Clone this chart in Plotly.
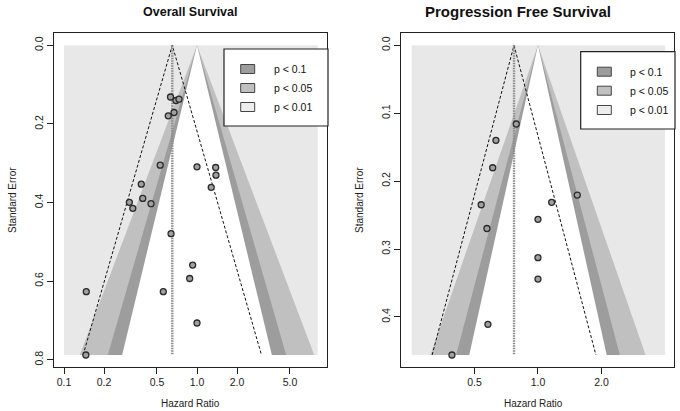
import math
import plotly.graph_objects as go

# ---------------- data ----------------
os_hr = [0.632, 0.695, 0.732, 0.672, 0.608, 0.529, 1.0, 1.382, 1.389, 1.279, 0.381,
         0.391, 0.451, 0.310, 0.329, 0.638, 0.928, 0.881, 0.147, 0.558, 1.0, 0.146]
os_se = [0.1316, 0.1405, 0.1372, 0.1710, 0.1794, 0.3051, 0.3092, 0.3109, 0.3305, 0.3613, 0.3534,
         0.3895, 0.4031, 0.3995, 0.4148, 0.4794, 0.5592, 0.5934, 0.6270, 0.6270, 0.7066, 0.7880]
os_pooled = 0.652
os_se_max = 0.788
os_xlim = [0.1, 8.08]

pfs_hr = [0.789, 0.632, 0.610, 0.538, 1.161, 1.536, 1.0, 0.573, 1.0, 1.0, 0.579, 0.391]
pfs_se = [0.1159, 0.1399, 0.1803, 0.2348, 0.2312, 0.2205, 0.2563, 0.2698, 0.3128, 0.3442, 0.4109, 0.4561]
pfs_pooled = 0.770
pfs_se_max = 0.456
pfs_xlim = [0.252, 4.0]

titles = ["Overall Survival", "Progression Free Survival"]
os_xticks = [0.1, 0.2, 0.5, 1.0, 2.0, 5.0]
os_xticklabels = ["0.1", "0.2", "0.5", "1.0", "2.0", "5.0"]
os_yticks = [0.0, 0.2, 0.4, 0.6, 0.8]
os_yticklabels = ["0.0", "0.2", "0.4", "0.6", "0.8"]
pfs_xticks = [0.5, 1.0, 2.0]
pfs_xticklabels = ["0.5", "1.0", "2.0"]
pfs_yticks = [0.0, 0.1, 0.2, 0.3, 0.4]
pfs_yticklabels = ["0.0", "0.1", "0.2", "0.3", "0.4"]
legend_labels = ["p < 0.1", "p < 0.05", "p < 0.01"]
z_levels = [2.576, 1.96, 1.645]          # contour z for p<0.01, p<0.05, p<0.1 boundaries
ci_z = 1.96

# ---------------- style ----------------
W, H = 680, 411
FONT = "Liberation Sans"
C_LIGHT = "#e8e8e8"
C_MED = "#c0c0c0"
C_DARK = "#9d9d9d"
legend_fill = [C_DARK, C_MED, "#eeeeee"]


def px(x):
    return x / W


def py(y):
    return 1 - y / H


fig = go.Figure()

panels = [
    dict(hr=os_hr, se=os_se, pooled=os_pooled, semax=os_se_max, xlim=os_xlim,
         xt=os_xticks, xtl=os_xticklabels, yt=os_yticks, ytl=os_yticklabels,
         frame=(54, 327), xr=(-2.476, 2.251), yr=(0.8178, -0.0313),
         title_x=190.5, title_size=12.5, xtitle_x=190.5, ytitle_x=12,
         leg_box=(224, 328, 49, 126), leg_sq_x=247.7, leg_y=(69, 88, 107), leg_tx=271.7),
    dict(hr=pfs_hr, se=pfs_se, pooled=pfs_pooled, semax=pfs_se_max, xlim=pfs_xlim,
         xt=pfs_xticks, xtl=pfs_xticklabels, yt=pfs_yticks, ytl=pfs_yticklabels,
         frame=(401, 674.3), xr=(-1.495, 1.488), yr=(0.4733, -0.0181),
         title_x=517.5, title_size=15, xtitle_x=533.7, ytitle_x=359,
         leg_box=(580.7, 675, 51.7, 129), leg_sq_x=604.3, leg_y=(71.7, 90.7, 110), leg_tx=628.3),
]

shapes = []
annotations = []
layout_axes = {}

for i, p in enumerate(panels):
    n = "" if i == 0 else str(i + 1)
    xa, ya = "x" + n, "y" + n
    smax = p["semax"]
    # background rectangle (p < 0.01 region)
    fig.add_trace(go.Scatter(
        x=[p["xlim"][0], p["xlim"][1], p["xlim"][1], p["xlim"][0], p["xlim"][0]],
        y=[0, 0, smax, smax, 0], mode="lines", fill="toself", fillcolor=C_LIGHT,
        line=dict(width=0), hoverinfo="skip", showlegend=False, xaxis=xa, yaxis=ya))
    # contour regions
    for z, col in zip(z_levels, [C_MED, C_DARK, "white"]):
        lo = math.exp(-z * smax)
        hi = math.exp(z * smax)
        fig.add_trace(go.Scatter(
            x=[1.0, hi, lo, 1.0], y=[0, smax, smax, 0], mode="lines", fill="toself",
            fillcolor=col, line=dict(width=0), hoverinfo="skip", showlegend=False,
            xaxis=xa, yaxis=ya))
    # pseudo confidence funnel (dashed)
    pl = p["pooled"]
    fig.add_trace(go.Scatter(
        x=[pl * math.exp(-ci_z * smax), pl, pl * math.exp(ci_z * smax)], y=[smax, 0, smax],
        mode="lines", line=dict(color="#111111", width=1, dash="3px,2px"),
        hoverinfo="skip", showlegend=False, xaxis=xa, yaxis=ya))
    # pooled estimate line (dotted)
    fig.add_trace(go.Scatter(
        x=[pl, pl], y=[0, smax], mode="lines",
        line=dict(color="#8a8a8a", width=2.4, dash="1.5px,1px"),
        hoverinfo="skip", showlegend=False, xaxis=xa, yaxis=ya))
    # studies
    fig.add_trace(go.Scatter(
        x=p["hr"], y=p["se"], mode="markers",
        marker=dict(size=6, color="#a0a0a0", line=dict(color="#2a2a2a", width=1.3)),
        showlegend=False, xaxis=xa, yaxis=ya))

    f0, f1 = p["frame"]
    layout_axes["xaxis" + n] = dict(
        type="log", domain=[px(f0), px(f1)],
        range=[p["xr"][0] / math.log(10), p["xr"][1] / math.log(10)],
        tickvals=p["xt"], ticktext=p["xtl"], ticks="outside", ticklen=6, tickwidth=1,
        tickcolor="#222", showline=True, mirror=True, linecolor="#222", linewidth=1.2,
        showgrid=False, zeroline=False, anchor=ya,
        tickfont=dict(family=FONT, size=10.5, color="#222"))
    layout_axes["yaxis" + n] = dict(
        domain=[py(366.7), py(33)], range=list(p["yr"]),
        tickvals=p["yt"], ticktext=p["ytl"], ticks="outside", ticklen=6, tickwidth=1,
        tickcolor="#222", tickangle=-90, showline=True, mirror=True, linecolor="#222",
        linewidth=1.2, showgrid=False, zeroline=False, anchor=xa,
        tickfont=dict(family=FONT, size=10.5, color="#222"))

    # titles
    annotations.append(dict(text="<b>%s</b>" % titles[i], x=px(p["title_x"]), y=py(12),
                            xref="paper", yref="paper", showarrow=False,
                            xanchor="center", yanchor="middle",
                            font=dict(family=FONT, size=p["title_size"], color="#111")))
    annotations.append(dict(text="Hazard Ratio", x=px(p["xtitle_x"]), y=py(403), xref="paper",
                            yref="paper", showarrow=False, xanchor="center", yanchor="middle",
                            font=dict(family=FONT, size=10, color="#222")))
    annotations.append(dict(text="Standard Error", x=px(p["ytitle_x"]), y=py(200), xref="paper",
                            yref="paper", showarrow=False, textangle=-90,
                            xanchor="center", yanchor="middle",
                            font=dict(family=FONT, size=10, color="#222")))

    # legend box
    bx0, bx1, by0, by1 = p["leg_box"]
    shapes.append(dict(type="rect", xref="paper", yref="paper", x0=px(bx0), x1=px(bx1),
                       y0=py(by1), y1=py(by0), fillcolor="white",
                       line=dict(color="#222", width=1.2)))
    for lab, fc, yy in zip(legend_labels, legend_fill, p["leg_y"]):
        sx = p["leg_sq_x"]
        shapes.append(dict(type="rect", xref="paper", yref="paper", x0=px(sx - 7), x1=px(sx + 7),
                           y0=py(yy + 4.5), y1=py(yy - 4.5), fillcolor=fc,
                           line=dict(color="#444", width=1)))
        annotations.append(dict(text=lab, x=px(p["leg_tx"]), y=py(yy), xref="paper",
                                yref="paper", xanchor="left", yanchor="middle", showarrow=False,
                                font=dict(family=FONT, size=10.5, color="#111")))

fig.update_layout(
    width=W, height=H, margin=dict(l=0, r=0, t=0, b=0),
    paper_bgcolor="white", plot_bgcolor="white",
    shapes=shapes, annotations=annotations, showlegend=False,
    **layout_axes)

fig.write_html("out.html", config={"displayModeBar": False},
               post_script="document.body.style.margin='0';document.body.style.overflow='hidden';")
